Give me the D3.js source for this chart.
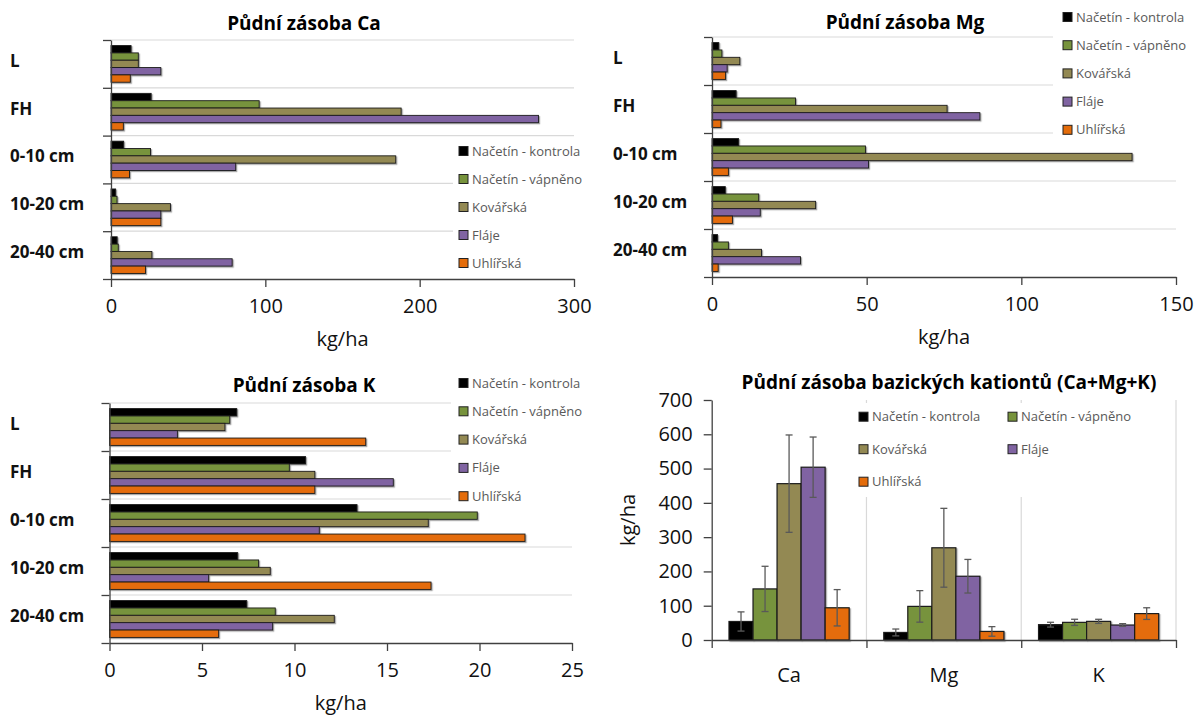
<!DOCTYPE html>
<html>
<head>
<meta charset="utf-8">
<script src="https://cdn.jsdelivr.net/npm/d3@7"></script>
<style>
  body { margin: 0; background: #fff; }
  svg { font-family: "Open Sans", sans-serif; }
</style>
</head>
<body>
<svg id="chart" width="1196" height="715"></svg>
<script>
// sites shown in every panel, and their colours
const sites = ["Načetín - kontrola", "Načetín - vápněno", "Kovářská", "Fláje", "Uhlířská"];
const siteColors = ["#000000", "#77933C", "#938953", "#8064A2", "#E46C0A"];
const depths = ["L", "FH", "0-10 cm", "10-20 cm", "20-40 cm"];

// kg/ha for each site, one value per depth (L, FH, 0-10, 10-20, 20-40)
const caKontrola = [13, 26, 8.2, 3, 4];
const caVapneno = [17.7, 96, 25.6, 3.9, 4.7];
const caKovarska = [17.7, 188, 184.5, 38.5, 26.5];
const caFlaje = [32.3, 277, 80.8, 32.3, 78.5];
const caUhlirska = [12.5, 8, 12, 32.3, 22.4];

const mgKontrola = [2.2, 7.8, 8.6, 4.3, 1.8];
const mgVapneno = [3.2, 27, 49.6, 15.1, 5.3];
const mgKovarska = [9, 76, 135.8, 33.5, 16];
const mgFlaje = [4.9, 86.6, 50.6, 15.6, 28.6];
const mgUhlirska = [4.4, 2.9, 5.3, 6.6, 2];

const kKontrola = [6.88, 10.6, 13.38, 6.93, 7.42];
const kVapneno = [6.5, 9.72, 19.88, 8.06, 8.96];
const kKovarska = [6.24, 11.1, 17.23, 8.69, 12.15];
const kFlaje = [3.67, 15.34, 11.34, 5.36, 8.82];
const kUhlirska = [13.85, 11.1, 22.46, 17.38, 5.9];

const caTicks = [0, 100, 200, 300];
const mgTicks = [0, 50, 100, 150];
const kTicks = [0, 5, 10, 15, 20, 25];

// total stock of base cations, mean and error per site (Ca, Mg, K)
const elements = ["Ca", "Mg", "K"];
const totKontrola = [54, 22, 44.7];
const totVapneno = [149, 98, 51.5];
const totKovarska = [456, 269, 54.4];
const totFlaje = [504, 186, 43.7];
const totUhlirska = [94, 25, 77];
const errKontrola = [28, 10, 7];
const errVapneno = [66, 46, 9];
const errKovarska = [142, 115, 6];
const errFlaje = [88, 49, 4];
const errUhlirska = [53, 14, 17];
const totTicks = [0, 100, 200, 300, 400, 500, 600, 700];

const svg = d3.select("#chart");
const axisColor = "#404040";
const gridColor = "#d9d9d9";

// soft shadow under the bars, like the spreadsheet did
const defs = svg.append("defs");
defs.append("filter").attr("id", "shadow")
  .attr("x", "-10%").attr("y", "-10%").attr("width", "130%").attr("height", "160%")
  .append("feDropShadow")
  .attr("dx", 1.2).attr("dy", 1.2).attr("stdDeviation", 0.7)
  .attr("flood-color", "#000").attr("flood-opacity", 0.35);

function styleAxis(g) {
  g.select(".domain").attr("stroke", axisColor).attr("stroke-width", 1.3);
  g.selectAll(".tick line").attr("stroke", axisColor).attr("stroke-width", 1.3);
  g.selectAll(".tick text").attr("fill", "#111").style("font-size", "20px")
    .style("font-family", "'Open Sans', sans-serif");
}

function drawLegend(items, x, y, dy) {
  const g = svg.append("g");
  const row = g.selectAll("g").data(items).join("g")
    .attr("transform", (d, i) => `translate(${x(i)},${y(i)})`);
  row.append("rect").attr("x", 0).attr("y", -4.5).attr("width", 9).attr("height", 9)
    .attr("fill", (d, i) => siteColors[i]).attr("stroke", "#222").attr("stroke-width", 1);
  row.append("text").attr("x", 13).attr("dy", "0.35em")
    .style("font-size", "13px").attr("fill", "#595959").text(d => d);
}

function drawStockPanel(p) {
  const x = d3.scaleLinear().domain([0, p.ticks[p.ticks.length - 1]]).range([p.left, p.right]);
  const y = d3.scaleBand().domain(depths).range([p.top, p.bottom]);
  const yEdge = d3.scaleLinear().domain([0, depths.length]).range([p.top, p.bottom]);
  const yi = d3.scaleBand().domain(sites).range([0, y.bandwidth()]).paddingOuter(0.76);

  // gridlines at the depth boundaries
  svg.append("g").selectAll("line").data(d3.range(depths.length)).join("line")
    .attr("x1", p.left).attr("x2", p.right)
    .attr("y1", d => yEdge(d)).attr("y2", d => yEdge(d))
    .attr("stroke", gridColor).attr("stroke-width", 1.2);

  // the legend sits on a white box over the plot area
  svg.append("rect").attr("x", p.legendBox[0]).attr("y", p.legendBox[1])
    .attr("width", p.legendBox[2]).attr("height", p.legendBox[3]).attr("fill", "#fff");

  const rows = [];
  p.series.forEach((vals, s) => {
    vals.forEach((v, d) => rows.push({ site: sites[s], s: s, depth: depths[d], value: v }));
  });
  svg.append("g").attr("filter", "url(#shadow)")
    .selectAll("rect").data(rows).join("rect")
    .attr("x", x(0))
    .attr("y", d => y(d.depth) + yi(d.site))
    .attr("width", d => x(d.value) - x(0))
    .attr("height", yi.bandwidth())
    .attr("fill", d => siteColors[d.s])
    .attr("stroke", "#1a1a1a").attr("stroke-width", 0.9);

  const xAxis = svg.append("g").attr("transform", `translate(0,${p.bottom})`)
    .call(d3.axisBottom(x).tickValues(p.ticks).tickSize(8).tickSizeOuter(0).tickPadding(12));
  styleAxis(xAxis);

  const yAxis = svg.append("g").attr("transform", `translate(${p.left},0)`)
    .call(d3.axisLeft(yEdge).tickValues(d3.range(depths.length + 1)).tickFormat("").tickSize(8).tickSizeOuter(0));
  styleAxis(yAxis);

  svg.append("g").selectAll("text").data(depths).join("text")
    .attr("x", p.labelX).attr("y", d => y(d) + y.bandwidth() / 2 - 3)
    .attr("dy", "0.35em").style("font-size", "17px").style("font-weight", "bold")
    .attr("fill", "#111").text(d => d);

  svg.append("text").attr("x", (p.left + p.right) / 2).attr("y", p.bottom + 60)
    .attr("text-anchor", "middle").attr("dy", "0.35em")
    .style("font-size", "20px").attr("fill", "#111").text("kg/ha");

  svg.append("text").attr("x", p.titleX).attr("y", p.titleY)
    .attr("text-anchor", "middle").attr("dy", "0.35em")
    .style("font-size", "19px").style("font-weight", "bold").attr("fill", "#000").text(p.title);

  drawLegend(sites, () => p.legendX, i => p.legendY + i * p.legendStep);
}

drawStockPanel({
  title: "Půdní zásoba Ca", titleX: 304, titleY: 23,
  series: [caKontrola, caVapneno, caKovarska, caFlaje, caUhlirska], ticks: caTicks,
  left: 111, right: 574, top: 40, bottom: 279, labelX: 10,
  legendBox: [453, 138, 125, 139], legendX: 459, legendY: 151, legendStep: 28
});

drawStockPanel({
  title: "Půdní zásoba Mg", titleX: 905, titleY: 22,
  series: [mgKontrola, mgVapneno, mgKovarska, mgFlaje, mgUhlirska], ticks: mgTicks,
  left: 712, right: 1176, top: 37, bottom: 277, labelX: 613,
  legendBox: [1053, 0, 143, 143], legendX: 1063, legendY: 17, legendStep: 28.2
});

drawStockPanel({
  title: "Půdní zásoba K", titleX: 304, titleY: 385,
  series: [kKontrola, kVapneno, kKovarska, kFlaje, kUhlirska], ticks: kTicks,
  left: 109.5, right: 572, top: 403, bottom: 643, labelX: 10,
  legendBox: [451, 368, 145, 140], legendX: 459, legendY: 383, legendStep: 28.3
});

// ---- total stock of base cations (Ca+Mg+K) ----
const tot = { left: 711.7, right: 1176, top: 400, bottom: 640 };
const yT = d3.scaleLinear().domain([0, 700]).range([tot.bottom, tot.top]);
const xT = d3.scaleBand().domain(elements).range([tot.left, tot.right]);
const xEdge = d3.scaleLinear().domain([0, elements.length]).range([tot.left, tot.right]);
const xTi = d3.scaleBand().domain(sites).range([0, xT.bandwidth()]).paddingOuter(0.72);

svg.append("g").selectAll("line").data([1, 2, 3]).join("line")
  .attr("x1", d => xEdge(d)).attr("x2", d => xEdge(d))
  .attr("y1", tot.top).attr("y2", tot.bottom)
  .attr("stroke", gridColor).attr("stroke-width", 1.2);

svg.append("rect").attr("x", 852).attr("y", 403).attr("width", 318).attr("height", 94).attr("fill", "#fff");

const totMeans = [totKontrola, totVapneno, totKovarska, totFlaje, totUhlirska];
const totErrs = [errKontrola, errVapneno, errKovarska, errFlaje, errUhlirska];
const totRows = [];
totMeans.forEach((vals, s) => {
  vals.forEach((v, e) => totRows.push({ s: s, site: sites[s], el: elements[e], value: v, err: totErrs[s][e] }));
});

svg.append("g").attr("filter", "url(#shadow)")
  .selectAll("rect").data(totRows).join("rect")
  .attr("x", d => xT(d.el) + xTi(d.site))
  .attr("y", d => yT(d.value))
  .attr("width", xTi.bandwidth())
  .attr("height", d => yT(0) - yT(d.value))
  .attr("fill", d => siteColors[d.s])
  .attr("stroke", "#1a1a1a").attr("stroke-width", 1.2);

// error bars
const eb = svg.append("g").attr("stroke", "#595959").attr("stroke-width", 1.3);
const cx = d => xT(d.el) + xTi(d.site) + xTi.bandwidth() / 2;
eb.selectAll("line.v").data(totRows).join("line").attr("class", "v")
  .attr("x1", cx).attr("x2", cx)
  .attr("y1", d => yT(d.value + d.err)).attr("y2", d => yT(Math.max(0, d.value - d.err)));
eb.selectAll("line.t").data(totRows).join("line").attr("class", "t")
  .attr("x1", d => cx(d) - 3.5).attr("x2", d => cx(d) + 3.5)
  .attr("y1", d => yT(d.value + d.err)).attr("y2", d => yT(d.value + d.err));
eb.selectAll("line.b").data(totRows).join("line").attr("class", "b")
  .attr("x1", d => cx(d) - 3.5).attr("x2", d => cx(d) + 3.5)
  .attr("y1", d => yT(d.value - d.err)).attr("y2", d => yT(d.value - d.err));

const totX = svg.append("g").attr("transform", `translate(0,${tot.bottom})`)
  .call(d3.axisBottom(xEdge).tickValues(d3.range(elements.length + 1)).tickFormat("").tickSize(8).tickSizeOuter(0));
styleAxis(totX);
const totY = svg.append("g").attr("transform", `translate(${tot.left},0)`)
  .call(d3.axisLeft(yT).tickValues(totTicks).tickSize(8).tickSizeOuter(0).tickPadding(11));
styleAxis(totY);

svg.append("g").selectAll("text").data(elements).join("text")
  .attr("x", d => xT(d) + xT.bandwidth() / 2).attr("y", 675)
  .attr("text-anchor", "middle").attr("dy", "0.35em")
  .style("font-size", "20px").attr("fill", "#111").text(d => d);

svg.append("text").attr("transform", "translate(628,520) rotate(-90)")
  .attr("text-anchor", "middle").attr("dy", "0.35em")
  .style("font-size", "20px").attr("fill", "#111").text("kg/ha");

svg.append("text").attr("x", 949).attr("y", 382)
  .attr("text-anchor", "middle").attr("dy", "0.35em")
  .style("font-size", "19px").style("font-weight", "bold").attr("fill", "#000")
  .text("Půdní zásoba bazických kationtů (Ca+Mg+K)");

drawLegend(sites, i => (i % 2 === 0 ? 859 : 1008), i => 416.7 + Math.floor(i / 2) * 32.5);
</script>
</body>
</html>
